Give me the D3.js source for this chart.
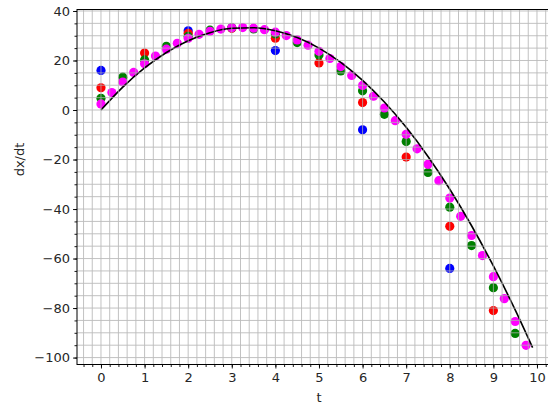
<!DOCTYPE html>
<html>
<head>
<meta charset="utf-8">
<script src="https://cdn.jsdelivr.net/npm/d3@7"></script>
<style>
  body { margin: 0; background: #fff; }
  svg { display: block; }
  text { font-family: "DejaVu Sans", sans-serif; fill: #262626; }
</style>
</head>
<body>
<div id="chart"></div>
<script>
// exact curve dx/dt (black line)
var lineT = [0, 0.5, 1, 1.5, 2, 2.5, 3, 3.5, 4, 4.5, 5, 5.5, 6, 6.5, 7, 7.5, 8, 8.5, 9, 9.5, 9.9];
var lineY = [0, 9.25, 17, 23.25, 28, 31.25, 33, 33.25, 32, 29.25, 25, 19.25, 12, 3.25, -7, -18.75, -32, -46.75, -63, -80.75, -96];

// approximations, one series per colour
var blueT = [0, 2, 4, 6, 8];
var blueY = [16, 32, 24, -8, -64];

var redT = [0, 1, 2, 3, 4, 5, 6, 7, 8, 9];
var redY = [9, 23, 31, 33, 29, 19, 3, -19, -47, -81];

var greenT = [0, 0.5, 1, 1.5, 2, 2.5, 3, 3.5, 4, 4.5, 5, 5.5, 6, 6.5, 7, 7.5, 8, 8.5, 9, 9.5];
var greenY = [4.75, 13.25, 20.25, 25.75, 29.75, 32.25, 33.25, 32.75, 30.75, 27.25, 22.25, 15.75,
              7.75, -1.75, -12.75, -25.25, -39.25, -54.75, -71.75, -90.25];

var magentaT = [0, 0.25, 0.5, 0.75, 1, 1.25, 1.5, 1.75, 2, 2.25, 2.5, 2.75, 3, 3.25, 3.5, 3.75,
                4, 4.25, 4.5, 4.75, 5, 5.25, 5.5, 5.75, 6, 6.25, 6.5, 6.75, 7, 7.25, 7.5, 7.75,
                8, 8.25, 8.5, 8.75, 9, 9.25, 9.5, 9.75];
var magentaY = [2.44, 7.06, 11.31, 15.19, 18.69, 21.81, 24.56, 26.94, 28.94, 30.56, 31.81, 32.69,
                33.19, 33.31, 33.06, 32.44, 31.44, 30.06, 28.31, 26.19, 23.69, 20.81, 17.56, 13.94,
                9.94, 5.56, 0.81, -4.31, -9.81, -15.69, -21.94, -28.56, -35.56, -42.94, -50.69,
                -58.81, -67.31, -76.19, -85.44, -95.06];

var xTicks = [0, 1, 2, 3, 4, 5, 6, 7, 8, 9, 10];
var yTicks = [-100, -80, -60, -40, -20, 0, 20, 40];

var width = 548, height = 406;
var plotLeft = 77, plotTop = 9.5, plotBottom = 364.5;

var svg = d3.select('#chart').append('svg')
    .attr('width', width)
    .attr('height', height);

var x = d3.scaleLinear().domain([-0.55, 10.5]).range([plotLeft, plotLeft + 11.05 * 43.6]);
var y = d3.scaleLinear().domain([-102.8, 40.6]).range([plotBottom, plotTop]);

var plot = svg.append('g');

// scatter series, drawn in this order so magenta ends on top
var series = [
    { t: blueT, v: blueY, color: '#0000ff' },
    { t: redT, v: redY, color: '#ff0000' },
    { t: greenT, v: greenY, color: '#008000' },
    { t: magentaT, v: magentaY, color: '#ff00ff' }
];
series.forEach(function(s) {
    plot.selectAll(null)
        .data(s.t)
        .enter().append('circle')
        .attr('cx', function(d) { return x(d); })
        .attr('cy', function(d, i) { return y(s.v[i]); })
        .attr('r', 4.6)
        .attr('fill', s.color);
});

// black line
var line = d3.line()
    .x(function(d) { return x(d); })
    .y(function(d, i) { return y(lineY[i]); })
    .curve(d3.curveMonotoneX);
plot.append('path')
    .attr('d', line(lineT))
    .attr('fill', 'none')
    .attr('stroke', '#000')
    .attr('stroke-width', 1.6);

// grid, major + minor, above the markers
var xMinor = d3.range(-0.4, 10.5, 0.2);
var yMinor = d3.range(-100, 41, 5);
var grid = svg.append('g').attr('stroke', '#b0b0b0').attr('stroke-width', 0.9).attr('opacity', 0.85);
grid.selectAll(null).data(xMinor).enter().append('line')
    .attr('x1', function(d) { return x(d); })
    .attr('x2', function(d) { return x(d); })
    .attr('y1', plotTop).attr('y2', plotBottom);
grid.selectAll(null).data(yMinor).enter().append('line')
    .attr('y1', function(d) { return y(d); })
    .attr('y2', function(d) { return y(d); })
    .attr('x1', plotLeft).attr('x2', width);

// axes
var xAxis = d3.axisBottom(x).tickValues(xTicks).tickSize(4).tickPadding(4).tickFormat(d3.format('d'));
var xAxisMinor = d3.axisBottom(x).tickValues(xMinor).tickSize(2.5).tickFormat('');
var yAxis = d3.axisLeft(y).tickValues(yTicks).tickSize(4).tickPadding(3)
    .tickFormat(function(d) { return d < 0 ? '\u2212' + Math.abs(d) : d; });
var yAxisMinor = d3.axisLeft(y).tickValues(yMinor).tickSize(2.5).tickFormat('');

[
    svg.append('g').attr('transform', 'translate(0,' + plotBottom + ')').call(xAxisMinor),
    svg.append('g').attr('transform', 'translate(0,' + plotBottom + ')').call(xAxis),
    svg.append('g').attr('transform', 'translate(' + plotLeft + ',0)').call(yAxisMinor),
    svg.append('g').attr('transform', 'translate(' + plotLeft + ',0)').call(yAxis)
].forEach(function(g) {
    g.select('.domain').remove();
    g.selectAll('line').attr('stroke', '#000').attr('stroke-width', 0.9);
    g.selectAll('text').attr('font-size', 13).attr('fill', '#262626')
        .style('font-family', '"DejaVu Sans", sans-serif');
});

// frame
svg.append('rect')
    .attr('x', plotLeft).attr('y', plotTop)
    .attr('width', x(10.5) - plotLeft).attr('height', plotBottom - plotTop)
    .attr('fill', 'none').attr('stroke', '#000').attr('stroke-width', 1);

// labels
svg.append('text')
    .attr('x', x(5)).attr('y', 402)
    .attr('text-anchor', 'middle')
    .attr('font-size', 13)
    .text('t');
svg.append('text')
    .attr('transform', 'translate(24,' + y(-20) + ') rotate(-90)')
    .attr('text-anchor', 'middle')
    .attr('font-size', 13)
    .text('dx/dt');
</script>
</body>
</html>
